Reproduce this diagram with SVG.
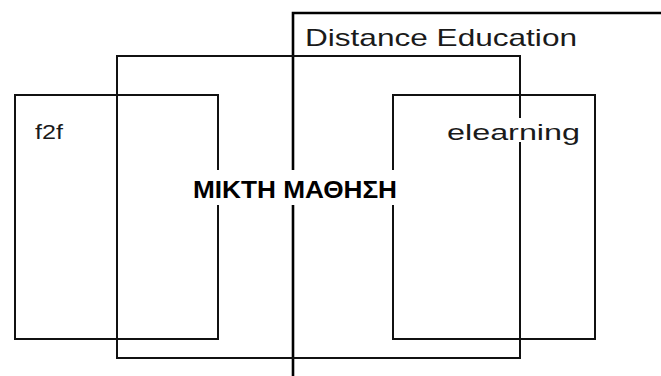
<svg xmlns="http://www.w3.org/2000/svg" width="661" height="376" viewBox="0 0 661 376">
  <style>
    .box { fill: none; stroke: #111; stroke-width: 2; }
    .de { fill: none; stroke: #000; stroke-width: 2.6; }
    .knock { fill: #fff; stroke: none; }
    .lbl { font-family: "Liberation Sans", Arial, sans-serif; fill: #1a1a1a; }
    .bold { font-weight: bold; fill: #000; }
  </style>
  <rect width="661" height="376" fill="#fff"/>
  <g id="distance-education">
    <polyline class="de" points="293,376 293,13 661,13"/>
    <text class="lbl" x="305" y="46" font-size="24" textLength="272" lengthAdjust="spacingAndGlyphs">Distance Education</text>
  </g>
  <g id="f2f">
    <rect class="box" x="15" y="95" width="203" height="244"/>
  </g>
  <g id="elearning">
    <rect class="box" x="393" y="95" width="202" height="244"/>
  </g>
  <g id="blended">
    <rect class="box" x="117" y="56" width="403" height="302"/>
  </g>
  <!-- labels sit on white so crossing lines break around them -->
  <g id="labels">
    <text class="lbl" x="35" y="139" font-size="21" textLength="28" lengthAdjust="spacingAndGlyphs">f2f</text>
    <rect class="knock" x="444" y="118" width="138" height="24"/>
    <text class="lbl" x="447" y="140" font-size="22" textLength="133" lengthAdjust="spacingAndGlyphs">elearning</text>
    <rect class="knock" x="180" y="170" width="236" height="35"/>
    <text class="lbl bold" x="193" y="198" font-size="24" textLength="204" lengthAdjust="spacingAndGlyphs">ΜΙΚΤΗ ΜΑΘΗΣΗ</text>
  </g>
</svg>
